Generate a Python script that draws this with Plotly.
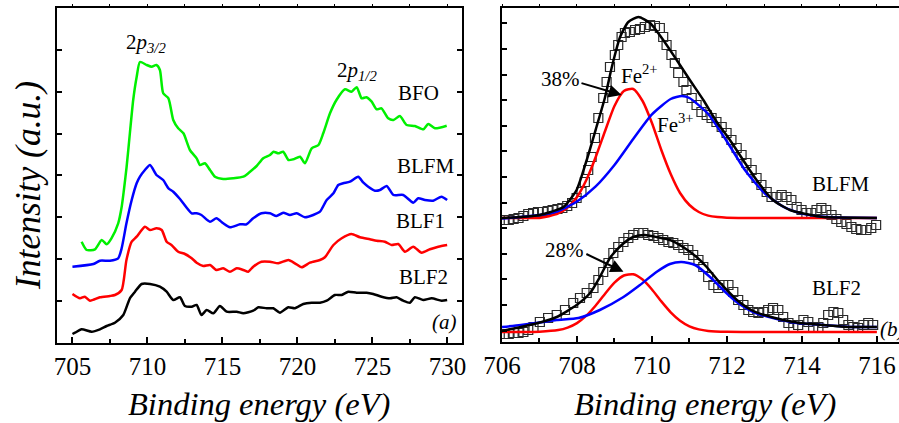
import plotly.graph_objects as go

W, H = 899, 423
FONT = "'Liberation Serif', 'Times New Roman', 'DejaVu Serif', serif"

# ---------------- Panel (a): Fe 2p spectra ----------------
bfo_e = [705.61, 705.95, 706.5, 706.95, 707.28, 707.6, 708.05, 708.28, 708.43, 708.61, 708.83, 709.05,
         709.28, 709.5, 709.95, 710.28, 710.6, 710.83, 711.05, 711.4, 711.72, 712.05, 712.4, 712.83,
         713.28, 713.5, 713.83, 714.17, 714.5, 715.05, 715.72, 716.4, 716.72, 717.28, 717.72, 718.17,
         718.4, 718.72, 719.05, 719.4, 719.72, 720.17, 720.5, 720.95, 721.4, 721.72, 722.17, 722.6,
         723.17, 723.6, 723.95, 724.28, 724.6, 724.95, 725.28, 725.6, 726.05, 726.4, 726.83, 727.28,
         727.83, 728.4, 728.72, 729.17, 729.95]
bfo_i = [101.3, 93, 93.7, 103, 98.7, 104.7, 119.7, 136, 153, 176, 210, 243,
         266, 281, 278, 276.3, 278, 273, 249.7, 244.7, 223, 214.7, 209.7, 193,
         184.7, 178, 179.7, 173, 166.3, 164, 164.7, 166.3, 169.7, 177, 184.7, 188,
         191.3, 189.7, 191.3, 183, 183.7, 186.3, 179.7, 194.7, 198, 209.7, 229.7, 243,
         253.7, 251.3, 255.7, 244.7, 245.7, 241.3, 233.7, 234.7, 224.7, 223, 227, 218,
         217, 213.7, 219, 214.7, 217.3]

blfm_e = [705.0, 706.4, 706.83, 707.5, 708.05, 708.28, 708.6, 708.95, 709.28, 709.5, 709.83, 710.17,
          710.6, 711.05, 711.4, 711.72, 712.17, 712.95, 713.28, 713.6, 714.17, 714.6, 715.05, 715.5,
          716.17, 716.6, 717.05, 717.6, 718.17, 718.6, 719.05, 719.5, 719.95, 720.5, 721.05, 721.5,
          721.95, 722.4, 722.72, 723.05, 723.5, 724.05, 724.4, 724.72, 725.17, 725.5, 725.95, 726.4,
          727.05, 727.72, 728.05, 728.5, 729.05, 729.6, 729.98]
blfm_i = [76.3, 79, 82.3, 82.3, 84.7, 94.7, 119.7, 143, 159.7, 166.3, 173, 178,
          168, 163, 154.7, 151.3, 144, 129.7, 129.7, 128, 121.3, 124.7, 119.7, 115.7,
          118.7, 118.7, 124.7, 129.7, 129.7, 127, 130.3, 128, 129.7, 125.7, 128, 131.3,
          143, 149.7, 158, 159.7, 161.3, 166.3, 160.3, 156.3, 152.3, 153, 157, 148,
          148, 140.3, 144.7, 143, 142.3, 146.3, 143]

blf1_e = [705.0, 705.5, 705.83, 706.17, 706.83, 707.5, 707.83, 708.28, 708.6, 708.95, 709.28, 709.83,
          710.17, 710.6, 710.95, 711.28, 711.6, 712.05, 712.5, 712.95, 713.28, 713.72, 714.17, 714.6,
          715.05, 715.5, 715.95, 716.4, 716.72, 717.05, 717.6, 718.17, 718.72, 719.4, 719.83, 720.28,
          720.83, 721.5, 721.83, 722.4, 722.95, 723.6, 724.17, 724.83, 725.28, 725.83, 726.28, 726.72,
          727.17, 727.72, 728.28, 728.83, 729.39, 729.98]
blf1_i = [49, 44.7, 46.3, 42.3, 45.7, 47, 48, 53, 83, 101.3, 106.3, 116.3,
          113, 114.7, 113, 101.3, 98, 91.3, 89, 84.7, 80.3, 77, 78, 73,
          74.7, 71.3, 74.7, 73, 71.3, 76.3, 81.3, 81.3, 79.7, 83, 79.7, 75.7,
          80.3, 83, 85.7, 98, 104.7, 109, 105.7, 103.7, 102.3, 101.3, 98, 99,
          91.3, 96.3, 90.3, 93.7, 96.3, 98]

blf2a_e = [705.0, 705.17, 705.61, 706.28, 706.83, 707.28, 707.83, 708.39, 708.83, 709.17, 709.61, 710.17,
           710.83, 711.28, 711.72, 712.17, 712.5, 712.95, 713.28, 713.6, 713.95, 714.39, 714.83, 715.28,
           715.95, 716.39, 717.05, 717.39, 717.95, 718.39, 718.83, 719.39, 719.83, 720.39, 720.95, 721.5,
           721.95, 722.5, 722.95, 723.39, 723.95, 724.61, 725.05, 725.61, 726.17, 726.61, 727.05, 727.5,
           727.83, 728.39, 728.95, 729.61, 729.98]
blf2a_i = [9, 10.3, 13.7, 11.3, 13.7, 17, 20.3, 28, 44.7, 51.3, 59, 59,
           56.3, 51.3, 43, 45.7, 37, 36.3, 38, 28, 33, 29.7, 37, 31.3,
           31.3, 29.7, 32.3, 35.7, 34.7, 34.7, 30.3, 35.7, 34.7, 39, 40.3, 40.3,
           42.3, 48, 48, 51.3, 50.3, 50.3, 49, 46.3, 44.7, 45.7, 42.3, 40.3,
           45.7, 43, 44.7, 42.3, 43]

a_ticks_y = [41.9, 83.8, 125.7, 167.6, 209.5, 251.4, 293.3]

# ---------------- Panel (b): Fe 2p3/2 fits ----------------
# BLFM
m_pts_e = [706.05, 706.18, 706.31, 706.44, 706.57, 706.7, 706.83, 706.96, 707.09, 707.22, 707.35, 707.48,
           707.61, 707.74, 707.87, 707.99, 708.12, 708.21, 708.3, 708.39, 708.48, 708.57, 708.7, 708.79,
           708.88, 709.01, 709.1, 709.19, 709.28, 709.41, 709.55, 709.68, 709.81, 709.95, 710.08, 710.21,
           710.3, 710.39, 710.52, 710.61, 710.7, 710.84, 710.92, 711.06, 711.19, 711.32, 711.46, 711.59,
           711.72, 711.86, 711.99, 712.12, 712.26, 712.39, 712.52, 712.66, 712.79, 712.92, 713.06, 713.19,
           713.32, 713.46, 713.59, 713.72, 713.86, 713.99, 714.12, 714.25, 714.39, 714.52, 714.65, 714.79,
           714.92, 715.05, 715.19, 715.32, 715.45, 715.58, 715.72, 715.85, 715.98]
m_pts_i = [122, 122, 123, 124, 126, 128, 129, 130, 130, 131, 132, 133,
           134, 136, 139, 144, 150, 160, 172, 185, 204, 224, 244, 260,
           275, 287, 297, 305, 309, 310, 312, 313, 315, 317, 316, 314,
           305, 297, 287, 279, 269, 260, 252, 244, 237, 230, 227, 224,
           220, 215, 209, 202, 194, 187, 179, 172, 164, 157, 150, 145,
           145, 147, 145, 142, 135, 132, 129, 129, 132, 134, 132, 127,
           123, 120, 118, 115, 113, 112, 112, 114, 117]

m_red_e = [706.0, 706.5, 707.0, 707.25, 707.5, 707.75, 708.0, 708.25, 708.5, 708.75, 709.0, 709.25,
           709.5, 709.75, 710.0, 710.25, 710.5, 710.75, 711.0, 711.25, 711.5, 711.75, 712.0, 713.0,
           714.0, 715.0, 716.0]
m_red_i = [124, 124, 124.1, 125.8, 128.6, 134.4, 145, 162, 185, 211, 236, 251,
           253, 241, 219, 192, 168, 149, 137, 130, 126.4, 124.9, 124.3, 124,
           124, 124, 124]

m_blue_e = [706.0, 706.5, 707.0, 707.5, 708.0, 708.5, 709.0, 709.5, 710.0, 710.5, 710.8, 711.0,
            711.5, 712.0, 712.5, 713.0, 713.5, 714.0, 714.5, 715.0, 716.0]
m_blue_i = [123.5, 125, 127, 131, 140.5, 155.6, 177, 203, 227.6, 243, 246, 244,
            228, 200.5, 171, 149, 135.4, 128.4, 125.4, 124.4, 124]

m_sum_e = [706.0, 706.5, 707.0, 707.3, 707.64, 707.99, 708.26, 708.52, 708.75, 708.93, 709.15, 709.37,
           709.64, 709.95, 710.3, 710.66, 711.01, 711.37, 711.73, 712.08, 712.43, 712.79, 713.23, 713.68,
           714.1, 714.57, 715.0, 716.0]
m_sum_i = [124, 125, 127, 130, 135, 152, 182, 215, 245, 275, 305, 320,
           325, 319, 302, 282, 262, 242, 220, 202, 182, 162, 142, 132,
           128, 125, 124.5, 124]

# BLF2
f_pts_e = [706.05, 706.18, 706.31, 706.44, 706.57, 706.7, 706.84, 707.01, 707.23, 707.46, 707.68, 707.9,
           708.08, 708.26, 708.44, 708.57, 708.7, 708.84, 708.97, 709.1, 709.24, 709.37, 709.5, 709.64,
           709.77, 709.9, 710.04, 710.17, 710.3, 710.44, 710.57, 710.7, 710.84, 710.97, 711.1, 711.24,
           711.37, 711.5, 711.64, 711.77, 711.9, 712.04, 712.17, 712.3, 712.44, 712.57, 712.7, 712.84,
           712.97, 713.1, 713.23, 713.37, 713.5, 713.64, 713.77, 713.9, 714.04, 714.17, 714.3, 714.44,
           714.57, 714.7, 714.84, 714.97, 715.1, 715.24, 715.37, 715.5, 715.64, 715.77, 715.9]
f_pts_i = [8, 8, 9, 9, 10, 12, 15, 20, 24, 27, 32, 39,
           44, 49, 54, 62, 70, 79, 89, 95, 100, 104, 107, 109,
           109, 107, 106, 104, 102, 100, 99, 97, 94, 92, 87, 82,
           75, 65, 57, 54, 57, 57, 50, 42, 37, 32, 30, 29,
           30, 32, 34, 32, 25, 19, 14, 17, 22, 20, 15, 15,
           19, 27, 30, 29, 22, 17, 15, 14, 17, 19, 17]

f_red_e = [706.0, 706.5, 707.0, 707.5, 707.75, 708.0, 708.25, 708.5, 708.75, 709.0, 709.25, 709.5,
           709.75, 710.0, 710.25, 710.5, 710.75, 711.0, 711.25, 711.5, 712.0, 713.0, 714.0, 715.0, 716.0]
f_red_i = [10, 10, 10.3, 11.9, 14.4, 18.9, 26.3, 36.5, 48.3, 59.3, 66.5, 67.7,
           62.4, 52.5, 40.6, 29.7, 21.3, 15.7, 12.6, 11.1, 10.2, 10, 10, 10, 10]

f_blue_e = [706.0, 706.5, 707.0, 707.46, 708.04, 708.61, 709.24, 709.68, 710.12, 710.48, 710.79, 711.15,
            711.55, 711.9, 712.26, 712.7, 713.23, 713.86, 714.57, 715.28, 716.0]
f_blue_i = [15, 17, 19.5, 22, 24, 32, 45, 57, 70, 78, 80, 77,
            65, 52, 40, 30, 24, 19, 17, 15, 15]

f_sum_e = [706.0, 706.5, 707.06, 707.46, 707.99, 708.35, 708.61, 708.88, 709.19, 709.5, 709.81, 710.12,
           710.48, 710.83, 711.19, 711.46, 711.75, 712.0, 712.3, 712.7, 713.23, 713.86, 714.57, 715.28, 716.0]
f_sum_i = [11, 15, 20, 25, 37, 49, 65, 84, 97, 105, 107, 105,
           102, 95, 85, 75, 62, 52, 41, 31, 24.5, 19.5, 17, 15, 15]

b_ticks_y = [318.7, 293.1, 267.5, 241.9, 216.3, 190.7, 165.1, 139.5, 113.9, 88.3, 62.7, 37.1, 11.5]

GREEN, BLUE, RED, BLACK = "#00f000", "#0000ff", "#ff0000", "#000000"

fig = go.Figure()


def line(x, y, color, xa, ya, width=2.5):
    fig.add_trace(go.Scatter(x=x, y=y, mode="lines", xaxis=xa, yaxis=ya,
                             line=dict(color=color, width=width, shape="spline", smoothing=0.6),
                             showlegend=False, hoverinfo="skip"))


line(bfo_e, bfo_i, GREEN, "x", "y")
line(blfm_e, blfm_i, BLUE, "x", "y")
line(blf1_e, blf1_i, RED, "x", "y")
line(blf2a_e, blf2a_i, BLACK, "x", "y")

for pe, pi in [(m_pts_e, m_pts_i), (f_pts_e, f_pts_i)]:
    fig.add_trace(go.Scatter(x=pe, y=pi, mode="markers", xaxis="x2", yaxis="y2",
                             marker=dict(symbol="square-open", size=9, color="#2a2a2a",
                                         line=dict(width=1.2)),
                             showlegend=False, hoverinfo="skip"))

line(m_red_e, m_red_i, RED, "x2", "y2")
line(m_blue_e, m_blue_i, BLUE, "x2", "y2")
line(m_sum_e, m_sum_i, BLACK, "x2", "y2")
line(f_red_e, f_red_i, RED, "x2", "y2")
line(f_blue_e, f_blue_i, BLUE, "x2", "y2")
line(f_sum_e, f_sum_i, BLACK, "x2", "y2")

# empty traces to register the top tick axes
fig.add_trace(go.Scatter(x=[], y=[], xaxis="x3", yaxis="y", showlegend=False, hoverinfo="skip"))
fig.add_trace(go.Scatter(x=[], y=[], xaxis="x4", yaxis="y2", showlegend=False, hoverinfo="skip"))

tickfont = dict(family=FONT, size=25, color="black")
axcommon = dict(showgrid=False, zeroline=False, showline=True, linecolor="black", linewidth=2,
                ticks="inside", tickcolor="black", tickwidth=1.5, automargin=False)

xa_range = [703.97, 730.97]
xb_range = [706.0, 716.59]
dom_a = [57 / W, 462 / W]
dom_b = [502 / W, 1.0]

fig.update_layout(
    width=W, height=H, margin=dict(l=0, r=0, t=0, b=0, pad=0, autoexpand=False),
    paper_bgcolor="white", plot_bgcolor="white", showlegend=False,
    font=dict(family=FONT, color="black"),
    xaxis=dict(**axcommon, domain=dom_a, range=xa_range, anchor="y", mirror=True,
               tickmode="array", tickvals=[705, 710, 715, 720, 725, 730], ticklen=6,
               tickfont=tickfont,
               minor=dict(ticks="inside", ticklen=4, tickcolor="black", tickwidth=1.5,
                          tickvals=[707.5, 712.5, 717.5, 722.5, 727.5])),
    yaxis=dict(**axcommon, domain=[1 - 343 / H, 1 - 8 / H], range=[0, 335], anchor="x",
               mirror="ticks", tickmode="array", tickvals=a_ticks_y, ticklen=5,
               showticklabels=False),
    xaxis2=dict(**axcommon, domain=dom_b, range=xb_range, anchor="y2", mirror=True,
                tickmode="array", tickvals=[706, 708, 710, 712, 714, 716], ticklen=6,
                tickfont=tickfont,
                minor=dict(ticks="inside", ticklen=4, tickcolor="black", tickwidth=1.5,
                           tickvals=[707, 709, 711, 713, 715])),
    yaxis2=dict(**axcommon, domain=[1 - 342 / H, 1 - 8 / H], range=[0, 334], anchor="x2",
                mirror=False, tickmode="array", tickvals=b_ticks_y, ticklen=5,
                showticklabels=False),
    xaxis3=dict(overlaying="x", side="top", anchor="y", range=xa_range, showgrid=False,
                zeroline=False, showline=False, ticks="outside", ticklen=3, tickwidth=1.2,
                tickcolor="black", tickmode="linear", tick0=705, dtick=2.5, showticklabels=False,
                automargin=False),
    xaxis4=dict(overlaying="x2", side="top", anchor="y2", range=xb_range, showgrid=False,
                zeroline=False, showline=False, ticks="outside", ticklen=3, tickwidth=1.2,
                tickcolor="black", tickmode="linear", tick0=706, dtick=1, showticklabels=False,
                automargin=False),
)

lab = dict(family=FONT, size=21, color="black")
ann = []


def txt(x, y, t, xr, yr, font=lab, **kw):
    ann.append(dict(x=x, y=y, xref=xr, yref=yr, text=t, showarrow=False, font=font,
                    xanchor=kw.get("xanchor", "center"), yanchor=kw.get("yanchor", "middle")))


# panel (a) labels
txt(709.9, 300, "2<i>p</i><sub><i>3/2</i></sub>", "x", "y")
txt(723.97, 272, "2<i>p</i><sub><i>1/2</i></sub>", "x", "y")
txt(728.1, 250.5, "BFO", "x", "y")
txt(728.56, 177, "BLFM", "x", "y")
txt(728.23, 122, "BLF1", "x", "y")
txt(728.37, 66, "BLF2", "x", "y")
txt(729.83, 21, "<i>(a)</i>", "x", "y")

# panel (b) labels
txt(707.55, 263, "38%", "x2", "y2")
txt(709.68, 268, "Fe<sup>2+</sup>", "x2", "y2")
txt(710.63, 219, "Fe<sup>3+</sup>", "x2", "y2")
txt(715.04, 158, "BLFM", "x2", "y2")
txt(714.93, 54, "BLF2", "x2", "y2")
txt(707.68, 92, "28%", "x2", "y2")
txt(716.03, 13, "<i>(b)</i>", "x2", "y2", xanchor="left")

# arrows
for hx, hy, tx, ty in [(709.19, 247, 708.08, 259.3), (709.24, 70.3, 708.21, 88.7)]:
    ann.append(dict(x=hx, y=hy, ax=tx, ay=ty, xref="x2", yref="y2", axref="x2", ayref="y2",
                    text="", showarrow=True, arrowhead=2, arrowsize=1.3, arrowwidth=2,
                    arrowcolor="black"))

# axis titles
title_font = dict(family=FONT, size=32.5, color="black")
ann.append(dict(x=258.5 / W, y=1 - 404 / H, xref="paper", yref="paper", showarrow=False,
                text="<i>Binding energy (eV)</i>", font=title_font, xanchor="center", yanchor="middle"))
ann.append(dict(x=704.5 / W, y=1 - 404 / H, xref="paper", yref="paper", showarrow=False,
                text="<i>Binding energy (eV)</i>", font=title_font, xanchor="center", yanchor="middle"))
ann.append(dict(x=28 / W, y=1 - 186 / H, xref="paper", yref="paper", showarrow=False,
                text="<i>Intensity (a.u.)</i>", font=dict(family=FONT, size=35.5, color="black"),
                textangle=-90, xanchor="center", yanchor="middle"))

fig.update_layout(annotations=ann)
fig.write_html("out.html")
